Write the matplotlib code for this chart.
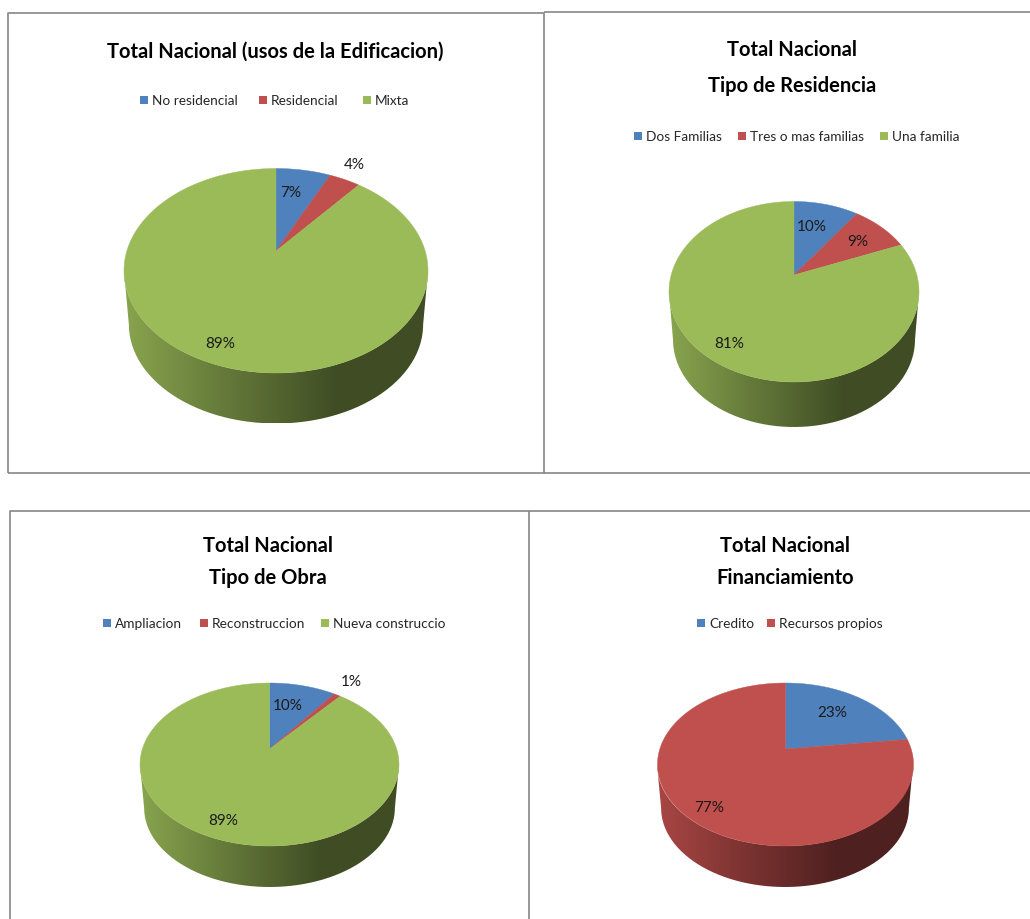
import numpy as np
import matplotlib
matplotlib.use('Agg')
import matplotlib.pyplot as plt
from matplotlib.patches import PathPatch, Rectangle
from matplotlib.path import Path
from matplotlib.colors import to_rgb

plt.rcParams['font.family'] = ['Lato', 'DejaVu Sans']

BLUE = '#4F81BD'
RED = '#C0504D'
GREEN = '#9BBB59'
FRAME = '#868686'

# chart data
titles = [['Total Nacional (usos de la Edificacion)'],
          ['Total Nacional', 'Tipo de Residencia'],
          ['Total Nacional', 'Tipo de Obra'],
          ['Total Nacional', 'Financiamiento']]
uso_labels = ['No residencial', 'Residencial', 'Mixta']
uso_values = [7, 4, 89]
residencia_labels = ['Dos Familias', 'Tres o mas familias', 'Una familia']
residencia_values = [10, 9, 81]
obra_labels = ['Ampliacion', 'Reconstruccion', 'Nueva construccio']
obra_values = [10, 1, 89]
financ_labels = ['Credito', 'Recursos propios']
financ_values = [23, 77]

# layout in pixels of the picture
# apex x, apex y, left, right, top, face bottom, wall bottom
geometry = [(276, 251, 124, 428, 168.5, 373, 423.5),
            (794, 275, 669, 919, 201.5, 382, 427),
            (269.5, 749, 140, 399, 683, 846, 887),
            (785.5, 749, 657, 913, 683, 846, 887)]
title_pos = [(275, [51.5]), (792, [49.5, 85.5]), (268, [545.5, 578.5]), (785, [545.5, 578.5])]
legend_y = [100, 136, 623, 623]
legend_x = [[140, 259, 363], [634, 738, 880], [103, 200, 321], [697, 767]]
pct_pos = [[(291, 193), (354, 165), (220, 344)],
           [(812, 227), (858, 242), (729, 344)],
           [(288, 706), (351, 682), (223, 821)],
           [(832, 713), (709, 808)]]

shade_x = [0.0, 0.3, 0.5, 0.7, 1.0]
shade_f = [0.88, 0.67, 0.54, 0.41, 0.41]


def project(theta, geo):
    """Angle clockwise from 12 o'clock to picture position, with perspective."""
    cx, cy, left, right, top, bottom, _ = geo
    a = cy - top
    b = bottom - cy
    k = (b - a) / (a + b)
    big_a = a * (1 + k)
    big_b = (right - left) / 2 * np.sqrt(1 - k ** 2)
    u = np.sin(theta)
    v = np.cos(theta)
    d = 1 + k * v
    return cx + big_b * u / d, cy - big_a * v / d


def draw_wall(ax, geo, color):
    cx, cy, left, right, top, bottom, wall_bottom = geo
    mid = (left + right) / 2
    rx = (right - left) / 2
    ry = (bottom - top) / 2
    my = (top + bottom) / 2
    s = 0.968
    t = np.linspace(0, np.pi, 120)
    upper_x = mid + rx * np.cos(t)
    upper_y = my + ry * np.sin(t)
    low_cy = wall_bottom - ry * s
    lower_x = mid + rx * s * np.cos(t[::-1])
    lower_y = low_cy + ry * s * np.sin(t[::-1])
    pts = np.column_stack([np.r_[upper_x, lower_x, upper_x[0]],
                           np.r_[upper_y, lower_y, upper_y[0]]])
    clip = PathPatch(Path(pts), transform=ax.transData, fc='none', ec='none')
    ax.add_patch(clip)
    xs = np.linspace(0, 1, 256)
    f = np.interp(xs, shade_x, shade_f)
    img = np.outer(f, to_rgb(color)).reshape(1, 256, 3)
    im = ax.imshow(img, extent=(left, right, wall_bottom, my), aspect='auto',
                   zorder=2, interpolation='bilinear')
    im.set_clip_path(clip)


def draw_pie(ax, values, geo, colors):
    fractions = np.cumsum([0] + list(values)) / sum(values) * 2 * np.pi
    draw_wall(ax, geo, colors[-1])
    for i, color in enumerate(colors):
        n = max(int((fractions[i + 1] - fractions[i]) * 60), 4)
        t = np.linspace(fractions[i], fractions[i + 1], n)
        x, y = project(t, geo)
        ax.fill(np.r_[geo[0], x], np.r_[geo[1], y], fc=color, ec=color, lw=0.3, zorder=3)


fig = plt.figure(figsize=(10.30, 9.19), dpi=100, facecolor='white')
ax = fig.add_axes([0, 0, 1, 1])

# panel frames
frames = [[(8, 472.5), (8, 12.5), (544, 12.5), (544, 472.5), (8, 472.5)],
          [(544, 12), (1030, 12)],
          [(544, 472.5), (1030, 472.5)],
          [(10, 919), (10, 511), (1030, 511)],
          [(528.5, 511), (528.5, 919)]]
for f in frames:
    ax.plot(*zip(*f), color=FRAME, lw=1.2, zorder=1, solid_capstyle='butt')

labels = [uso_labels, residencia_labels, obra_labels, financ_labels]
values = [uso_values, residencia_values, obra_values, financ_values]
colors = [BLUE, RED, GREEN]
for i in range(4):
    vals = values[i]
    cols = colors[:len(vals)]
    draw_pie(ax, vals, geometry[i], cols)
    tx, tys = title_pos[i]
    for line, ty in zip(titles[i], tys):
        ax.text(tx, ty, line, ha='center', va='center', fontsize=14.5,
                fontweight='bold', color='black', zorder=5)
    for name, col, lx in zip(labels[i], cols, legend_x[i]):
        ax.add_patch(Rectangle((lx, legend_y[i] - 4), 8, 8, fc=col, ec='none', zorder=5))
        ax.text(lx + 12, legend_y[i] + 1, name, ha='left', va='center', fontsize=9.8,
                color='#262626', zorder=5)
    for v, (px, py) in zip(vals, pct_pos[i]):
        ax.text(px, py, f'{v}%', ha='center', va='center', fontsize=11,
                color='#1a1a1a', zorder=5)

ax.set_xlim(0, 1030)
ax.set_ylim(919, 0)
ax.axis('off')

fig.savefig('out.png', dpi=100, facecolor='white')
